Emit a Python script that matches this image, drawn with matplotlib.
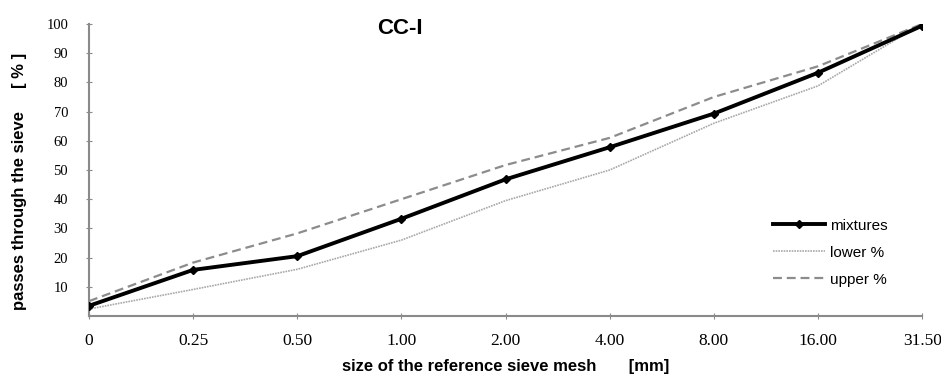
import matplotlib
matplotlib.use("Agg")
import matplotlib.pyplot as plt

categories = ["0", "0.25", "0.50", "1.00", "2.00", "4.00", "8.00", "16.00", "31.50"]
mixtures = [3.5, 15.8, 20.5, 33.3, 46.8, 57.8, 69.3, 83.3, 99.4]
lower = [2.4, 9.1, 16.0, 26.0, 39.5, 50.0, 66.0, 78.8, 100.0]
upper = [5.1, 18.3, 28.3, 40.0, 51.7, 61.0, 75.0, 85.5, 100.0]
y_ticks = [10, 20, 30, 40, 50, 60, 70, 80, 90, 100]

fig = plt.figure(figsize=(9.41, 3.74), dpi=100)
ax = fig.add_axes([0.0946, 0.155, 0.8854, 0.781])
x = list(range(len(categories)))

ax.plot(x, lower, color="#a8a8a8", lw=1.2, ls=(0, (1, 0.6)), label="lower %", zorder=2)
ax.plot(x, upper, color="#8c8c8c", lw=1.6, ls=(0, (4, 2.2)), label="upper %", zorder=2)
ax.plot(x, mixtures, color="black", lw=2.8, marker="D", ms=4.5, label="mixtures", zorder=3)

ax.set_xlim(0, 8)
ax.set_ylim(0, 100)
ax.set_xticks(x)
ax.set_xticklabels(categories, family="Liberation Serif", fontsize=12.5)
ax.set_yticks(y_ticks)
ax.set_yticklabels([str(v) for v in y_ticks], family="Liberation Serif", fontsize=10.5)
for s in ["top", "right"]:
    ax.spines[s].set_visible(False)
for s in ["left", "bottom"]:
    ax.spines[s].set_color("#8a8a8a")
    ax.spines[s].set_linewidth(1.5)
ax.tick_params(axis="x", direction="inout", length=5, color="#8a8a8a", pad=10)
ax.tick_params(axis="y", direction="inout", length=4, color="#8a8a8a", pad=13)

ax.set_xlabel("size of the reference sieve mesh       [mm]", family="Liberation Sans",
              fontweight="bold", fontsize=12, labelpad=7)
ax.set_ylabel("passes through the sieve     [ % ]", family="Liberation Sans",
              fontweight="bold", fontsize=12)
ax.yaxis.set_label_coords(-0.074, 0.46)

fig.text(0.425, 0.925, "CC-I", family="Liberation Sans", fontweight="bold", fontsize=16,
         ha="center", va="center")

handles, labels = ax.get_legend_handles_labels()
order = [2, 0, 1]
leg = ax.legend([handles[i] for i in order], [labels[i] for i in order],
                loc="upper left", bbox_to_anchor=(0.805, 0.38), frameon=False,
                prop={"family": "Liberation Sans", "size": 11}, handlelength=3.4,
                handletextpad=0.3, labelspacing=0.85)

fig.savefig("out.png", dpi=100)
